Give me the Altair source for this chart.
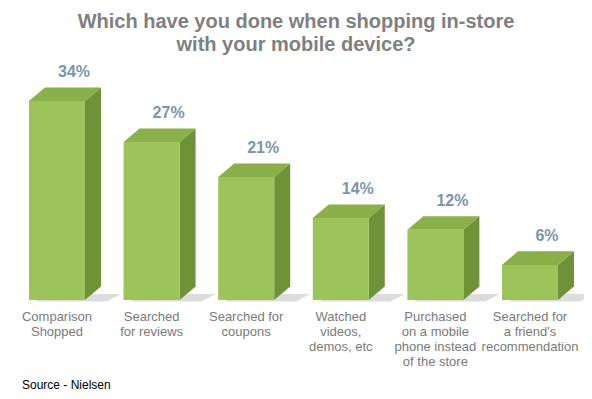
import altair as alt
import pandas as pd

# ---- data ----
categories = [
    "Comparison\nShopped",
    "Searched\nfor reviews",
    "Searched for\ncoupons",
    "Watched\nvideos,\ndemos, etc",
    "Purchased\non a mobile\nphone instead\nof the store",
    "Searched for\na friend's\nrecommendation",
]
values = [34, 27, 21, 14, 12, 6]
title_lines = ["Which have you done when shopping in-store", "with your mobile device?"]
source_note = ["Source - Nielsen"]

df = pd.DataFrame({"idx": list(range(len(values))), "category": categories, "value": values})

# ---- geometry (style) ----
HW = 0.296   # half width of the front face, in bar-index units
DX = 0.169   # horizontal depth of the 3D box, bar-index units
DY = 2.31    # vertical depth of the 3D box, value units
LX = 0.18    # value-label shift to the right

xscale = alt.Scale(domain=[-0.518, 5.571], nice=False, zero=False)
yscale = alt.Scale(domain=[-15.55, 39.64], nice=False, zero=False)
FONT = "Liberation Sans"

base = alt.Chart(df)
two = base.transform_calculate(k="[0, 1]").transform_flatten(["k"])

shadow = two.transform_calculate(
    hy=f"-0.25 + datum.k * {DY} * 0.55",
    hx1=f"datum.idx - {HW} + 0.05 + datum.k * {DX} * 1.6",
    hx2=f"datum.idx + {HW} + {DX} + 0.06 + datum.k * {DX} * 0.9",
).mark_area(color="#9a9a9a", opacity=0.35, orient="horizontal").encode(
    y=alt.Y("hy:Q", scale=yscale, axis=None),
    x=alt.X("hx1:Q", scale=xscale, axis=None),
    x2="hx2:Q",
    detail="category:N",
)

side = two.transform_calculate(
    sx=f"datum.idx + {HW} + datum.k * {DX}",
    slo=f"datum.k * {DY}",
    shi=f"datum.value + datum.k * {DY}",
).mark_area(color="#6E9238", orient="vertical").encode(
    x=alt.X("sx:Q", scale=xscale, axis=None),
    y=alt.Y("shi:Q", scale=yscale, axis=None),
    y2="slo:Q",
    detail="category:N",
)

top = two.transform_calculate(
    ty=f"datum.value + datum.k * {DY}",
    tx1=f"datum.idx - {HW} + datum.k * {DX}",
    tx2=f"datum.idx + {HW} + datum.k * {DX}",
).mark_area(color="#89B049", orient="horizontal").encode(
    y=alt.Y("ty:Q", scale=yscale, axis=None),
    x=alt.X("tx1:Q", scale=xscale, axis=None),
    x2="tx2:Q",
    detail="category:N",
)

front = base.transform_calculate(
    xl=f"datum.idx - {HW}", xr=f"datum.idx + {HW}"
).mark_rect(color="#9CC45B").encode(
    x=alt.X("xl:Q", scale=xscale, axis=None),
    x2="xr:Q",
    y=alt.Y("value:Q", scale=yscale, axis=None),
    y2=alt.datum(0),
)

vlabels = base.transform_calculate(
    lx=f"datum.idx + {LX}", txt="datum.value + '%'"
).mark_text(
    font=FONT, fontSize=16, fontWeight="bold", color="#7B95AE",
    dy=-24, baseline="alphabetic", align="center",
).encode(
    x=alt.X("lx:Q", scale=xscale, axis=None),
    y=alt.Y("value:Q", scale=yscale, axis=None),
    text="txt:N",
)

clabels = base.mark_text(
    font=FONT, fontSize=13, color="#7A7A7A", lineBreak="\n", lineHeight=15,
    baseline="alphabetic", align="center",
).encode(
    x=alt.X("idx:Q", scale=xscale, axis=None),
    y=alt.value(253),
    text="category:N",
)

src = alt.Chart(pd.DataFrame({"note": source_note})).mark_text(
    font=FONT, fontSize=12, color="#000000", align="left", baseline="alphabetic"
).encode(x=alt.value(14), y=alt.value(321), text="note:N")

chart = alt.layer(shadow, side, top, front, vlabels, clabels, src).properties(
    width=576,
    height=323,
    title=alt.TitleParams(
        text=title_lines, font=FONT, fontSize=20, fontWeight="bold",
        color="#808080", lineHeight=23, anchor="middle", offset=9,
    ),
    padding={"left": 0, "right": 0, "top": 60, "bottom": 0},
    autosize=alt.AutoSizeParams(type="none"),
    background="white",
).configure_view(stroke=None)

chart.save("out.html", embed_options={"renderer": "svg", "actions": False})
